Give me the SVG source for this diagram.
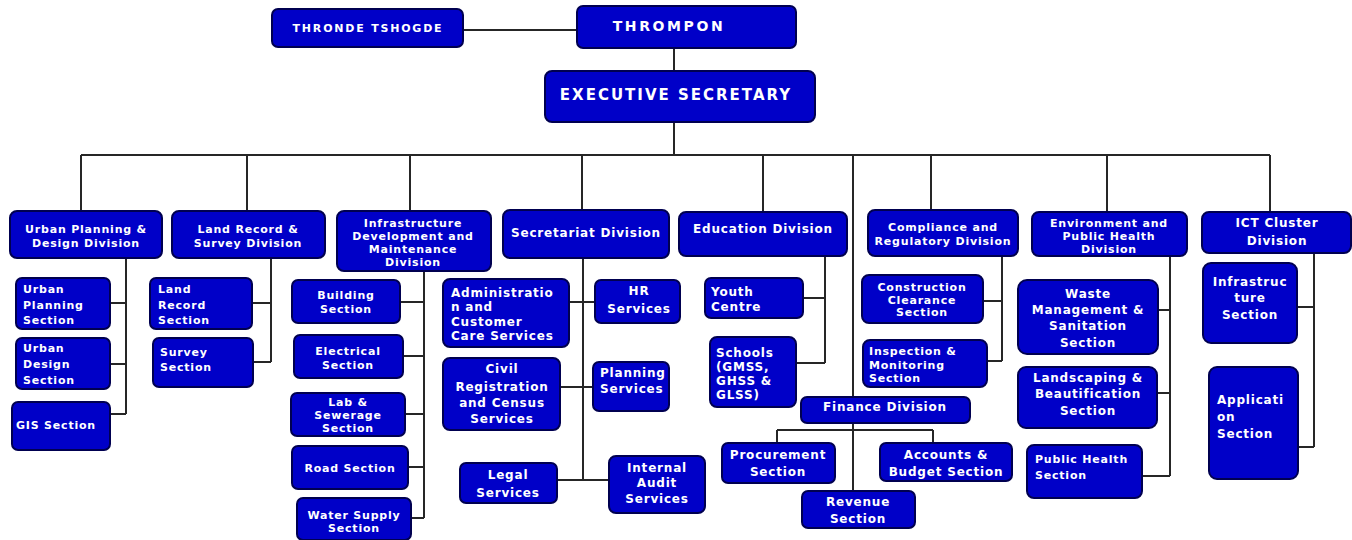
<svg xmlns="http://www.w3.org/2000/svg" width="1352" height="540" viewBox="0 0 1352 540">
<style>
.b{fill:#0000c8;stroke:#000050;stroke-width:2}
.c{stroke:#262626;stroke-width:2;fill:none}
text{font-family:"DejaVu Sans","Liberation Sans",sans-serif;font-weight:bold;fill:#ffffff;font-size:11px;letter-spacing:0.8px;text-anchor:middle}
.m{font-size:12px}
.l{text-anchor:start}
.top1{font-size:11px;letter-spacing:1.8px}
.top2{font-size:14px;letter-spacing:2.6px}
.top3{font-size:15px;letter-spacing:2px}
</style>
<rect width="1352" height="540" fill="#ffffff"/>
<g id="connectors">
<path class="c" d="M463 30H577M674 48V71M674 122V155M81 155H1270"/>
<path class="c" d="M81 155V211M247 155V211M410 155V211M582 155V210M763 155V212M853 155V397M931 155V210M1107 155V212M1270 155V212"/>
<path class="c" d="M126 258V414M110 303H126M110 364H126M110 414H126"/>
<path class="c" d="M271 258V362M252 303H271M253 362H271"/>
<path class="c" d="M424 271V518M400 302H424M403 356H424M405 414H424M408 467H424M411 518H424"/>
<path class="c" d="M583 258V480M569 302H595M560 387H593M557 480H609"/>
<path class="c" d="M825 256V363M803 298H825M796 363H825"/>
<path class="c" d="M853 423V491M777 430H933M777 430V443M933 430V443"/>
<path class="c" d="M1002 256V361M983 301H1002M987 361H1002"/>
<path class="c" d="M1170 256V476M1158 310H1170M1157 393H1170M1142 476H1170"/>
<path class="c" d="M1314 253V447M1297 307H1314M1298 447H1314"/>
</g>
<g id="n_tshogde"><rect class="b" x="272" y="9" width="191" height="38" rx="6"/><text class="top1" x="368" y="32">THRONDE TSHOGDE</text></g>
<g id="n_thrompon"><rect class="b" x="577" y="6" width="219" height="42" rx="6"/><text class="top2" x="669" y="31">THROMPON</text></g>
<g id="n_exec"><rect class="b" x="545" y="71" width="270" height="51" rx="7"/><text class="top3" x="676" y="100">EXECUTIVE SECRETARY</text></g>

<g id="n_urban"><rect class="b" x="10" y="211" width="152" height="47" rx="7"/><text x="86" y="233">Urban Planning &amp;</text><text x="86" y="247">Design Division</text></g>
<g id="n_ups"><rect class="b" x="16" y="278" width="94" height="51" rx="6"/><text class="l" x="23" y="293">Urban</text><text class="l" x="23" y="309">Planning</text><text class="l" x="23" y="324">Section</text></g>
<g id="n_uds"><rect class="b" x="16" y="338" width="94" height="51" rx="6"/><text class="l" x="23" y="352">Urban</text><text class="l" x="23" y="368">Design</text><text class="l" x="23" y="384">Section</text></g>
<g id="n_gis"><rect class="b" x="12" y="402" width="98" height="48" rx="6"/><text class="l" x="16" y="429">GIS Section</text></g>

<g id="n_land"><rect class="b" x="172" y="211" width="153" height="47" rx="7"/><text x="248" y="233">Land Record &amp;</text><text x="248" y="247">Survey Division</text></g>
<g id="n_lrs"><rect class="b" x="150" y="278" width="102" height="51" rx="6"/><text class="l" x="158" y="293">Land</text><text class="l" x="158" y="309">Record</text><text class="l" x="158" y="324">Section</text></g>
<g id="n_survey"><rect class="b" x="153" y="338" width="100" height="49" rx="6"/><text class="l" x="160" y="356">Survey</text><text class="l" x="160" y="371">Section</text></g>

<g id="n_infra"><rect class="b" x="337" y="211" width="154" height="60" rx="7"/><text x="413" y="227">Infrastructure</text><text x="413" y="240">Development and</text><text x="413" y="253">Maintenance</text><text x="413" y="266">Division</text></g>
<g id="n_building"><rect class="b" x="292" y="280" width="108" height="43" rx="6"/><text x="346" y="299">Building</text><text x="346" y="313">Section</text></g>
<g id="n_electrical"><rect class="b" x="294" y="335" width="109" height="43" rx="6"/><text x="348" y="355">Electrical</text><text x="348" y="369">Section</text></g>
<g id="n_lab"><rect class="b" x="291" y="393" width="114" height="43" rx="6"/><text x="348" y="406">Lab &amp;</text><text x="348" y="419">Sewerage</text><text x="348" y="432">Section</text></g>
<g id="n_road"><rect class="b" x="292" y="446" width="116" height="43" rx="6"/><text x="350" y="472">Road Section</text></g>
<g id="n_water"><rect class="b" x="297" y="498" width="114" height="42" rx="6"/><text x="354" y="519">Water Supply</text><text x="354" y="532">Section</text></g>

<g id="n_secretariat"><rect class="b" x="503" y="210" width="166" height="48" rx="7"/><text class="m" x="586" y="237">Secretariat Division</text></g>
<g id="n_admin"><rect class="b" x="443" y="279" width="126" height="68" rx="7"/><text class="m l" x="451" y="297">Administratio</text><text class="m l" x="451" y="311">n and</text><text class="m l" x="451" y="326">Customer</text><text class="m l" x="451" y="340">Care Services</text></g>
<g id="n_hr"><rect class="b" x="595" y="280" width="85" height="43" rx="6"/><text class="m" x="639" y="295">HR</text><text class="m" x="639" y="313">Services</text></g>
<g id="n_civil"><rect class="b" x="443" y="358" width="117" height="72" rx="7"/><text class="m" x="502" y="373">Civil</text><text class="m" x="502" y="391">Registration</text><text class="m" x="502" y="407">and Census</text><text class="m" x="502" y="423">Services</text></g>
<g id="n_planning"><rect class="b" x="593" y="362" width="76" height="49" rx="6"/><text class="m l" x="600" y="377">Planning</text><text class="m l" x="600" y="393">Services</text></g>
<g id="n_legal"><rect class="b" x="460" y="463" width="97" height="40" rx="6"/><text class="m" x="508" y="479">Legal</text><text class="m" x="508" y="497">Services</text></g>
<g id="n_audit"><rect class="b" x="609" y="456" width="96" height="57" rx="7"/><text class="m" x="657" y="472">Internal</text><text class="m" x="657" y="487">Audit</text><text class="m" x="657" y="503">Services</text></g>

<g id="n_education"><rect class="b" x="679" y="212" width="168" height="44" rx="7"/><text class="m" x="763" y="233">Education Division</text></g>
<g id="n_youth"><rect class="b" x="705" y="278" width="98" height="40" rx="6"/><text class="m l" x="711" y="296">Youth</text><text class="m l" x="711" y="311">Centre</text></g>
<g id="n_schools"><rect class="b" x="710" y="337" width="86" height="70" rx="7"/><text class="m l" x="716" y="357">Schools</text><text class="m l" x="716" y="371">(GMSS,</text><text class="m l" x="716" y="385">GHSS &amp;</text><text class="m l" x="716" y="399">GLSS)</text></g>

<g id="n_finance"><rect class="b" x="801" y="397" width="169" height="26" rx="6"/><text class="m" x="885" y="411">Finance Division</text></g>
<g id="n_procurement"><rect class="b" x="722" y="443" width="113" height="40" rx="6"/><text class="m" x="778" y="459">Procurement</text><text class="m" x="778" y="476">Section</text></g>
<g id="n_accounts"><rect class="b" x="880" y="443" width="132" height="38" rx="6"/><text class="m" x="946" y="459">Accounts &amp;</text><text class="m" x="946" y="476">Budget Section</text></g>
<g id="n_revenue"><rect class="b" x="802" y="491" width="113" height="37" rx="6"/><text class="m" x="858" y="506">Revenue</text><text class="m" x="858" y="523">Section</text></g>

<g id="n_compliance"><rect class="b" x="868" y="210" width="150" height="46" rx="7"/><text x="943" y="231">Compliance and</text><text x="943" y="245">Regulatory Division</text></g>
<g id="n_construction"><rect class="b" x="862" y="275" width="121" height="48" rx="7"/><text x="922" y="291">Construction</text><text x="922" y="304">Clearance</text><text x="922" y="316">Section</text></g>
<g id="n_inspection"><rect class="b" x="863" y="340" width="124" height="47" rx="7"/><text class="l" x="869" y="355">Inspection &amp;</text><text class="l" x="869" y="369">Monitoring</text><text class="l" x="869" y="382">Section</text></g>

<g id="n_env"><rect class="b" x="1032" y="212" width="155" height="44" rx="7"/><text x="1109" y="227">Environment and</text><text x="1109" y="240">Public Health</text><text x="1109" y="253">Division</text></g>
<g id="n_waste"><rect class="b" x="1018" y="280" width="140" height="74" rx="9"/><text class="m" x="1088" y="298">Waste</text><text class="m" x="1088" y="314">Management &amp;</text><text class="m" x="1088" y="330">Sanitation</text><text class="m" x="1088" y="347">Section</text></g>
<g id="n_landscaping"><rect class="b" x="1018" y="367" width="139" height="61" rx="8"/><text class="m" x="1088" y="382">Landscaping &amp;</text><text class="m" x="1088" y="398">Beautification</text><text class="m" x="1088" y="415">Section</text></g>
<g id="n_publichealth"><rect class="b" x="1027" y="445" width="115" height="53" rx="7"/><text class="l" x="1035" y="463">Public Health</text><text class="l" x="1035" y="479">Section</text></g>

<g id="n_ict"><rect class="b" x="1202" y="212" width="149" height="41" rx="7"/><text class="m" x="1277" y="227">ICT Cluster</text><text class="m" x="1277" y="245">Division</text></g>
<g id="n_ictinfra"><rect class="b" x="1203" y="263" width="94" height="80" rx="8"/><text class="m" x="1250" y="286">Infrastruc</text><text class="m" x="1250" y="302">ture</text><text class="m" x="1250" y="319">Section</text></g>
<g id="n_app"><rect class="b" x="1209" y="367" width="89" height="112" rx="8"/><text class="m l" x="1217" y="404">Applicati</text><text class="m l" x="1217" y="421">on</text><text class="m l" x="1217" y="438">Section</text></g>
</svg>
